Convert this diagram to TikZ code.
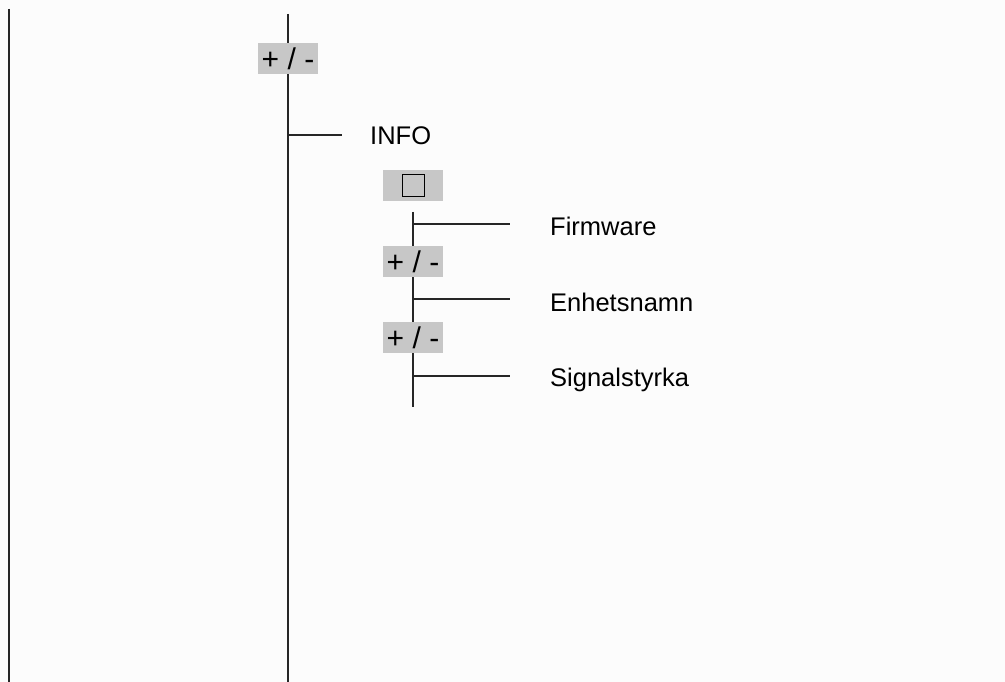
\documentclass[tikz,border=0pt]{standalone}
\usepackage{fontspec}
\setmainfont{Liberation Sans}
\begin{document}
\begin{tikzpicture}[x=1pt,y=-1pt,
  ln/.style={draw=black!85,line width=1.3pt},
  key/.style={fill=black!22,minimum width=60pt,minimum height=31pt,inner sep=0pt,font=\fontsize{30}{32}\selectfont},
  lbl/.style={anchor=west,inner sep=0pt,font=\fontsize{25.5}{28}\selectfont}]
\fill[white!99!black] (0,0) rectangle (1005,682);
\useasboundingbox (0,0) rectangle (1005,682);
% left line
\coordinate (l1) at (9,9);
\coordinate (l2) at (9,682);
\draw[ln] (l1) -- (l2);
% main line
\coordinate (m1) at (288,14);
\coordinate (m2) at (288,682);
\draw[ln] (m1) -- (m2);
\node[key] (k1) at (288,58.5) {+ / -};
\coordinate (i0) at (288,135);
\coordinate (i1) at (342,135);
\draw[ln] (i0) -- (i1);
\node[lbl] (info) at (370,136) {INFO};
% enter key
\node[key] (ok) at (413,186) {};
\node[draw=black,line width=1pt,minimum width=22pt,minimum height=22pt,inner sep=0pt] (sq) at (ok) {};
% sub line
\coordinate (s1) at (413,212);
\coordinate (s2) at (413,407);
\draw[ln] (s1) -- (s2);
\node[key] (k2) at (413,261.5) {+ / -};
\node[key] (k3) at (413,337.5) {+ / -};
\coordinate (f0) at (413,224);
\coordinate (f1) at (510,224);
\coordinate (e0) at (413,299);
\coordinate (e1) at (510,299);
\coordinate (g0) at (413,376);
\coordinate (g1) at (510,376);
\draw[ln] (f0) -- (f1);
\draw[ln] (e0) -- (e1);
\draw[ln] (g0) -- (g1);
\node[lbl] (fw) at (550,226) {Firmware};
\node[lbl] (en) at (550,302) {Enhetsnamn};
\node[lbl] (sg) at (550,380) {Signalstyrka};
\end{tikzpicture}
\end{document}
